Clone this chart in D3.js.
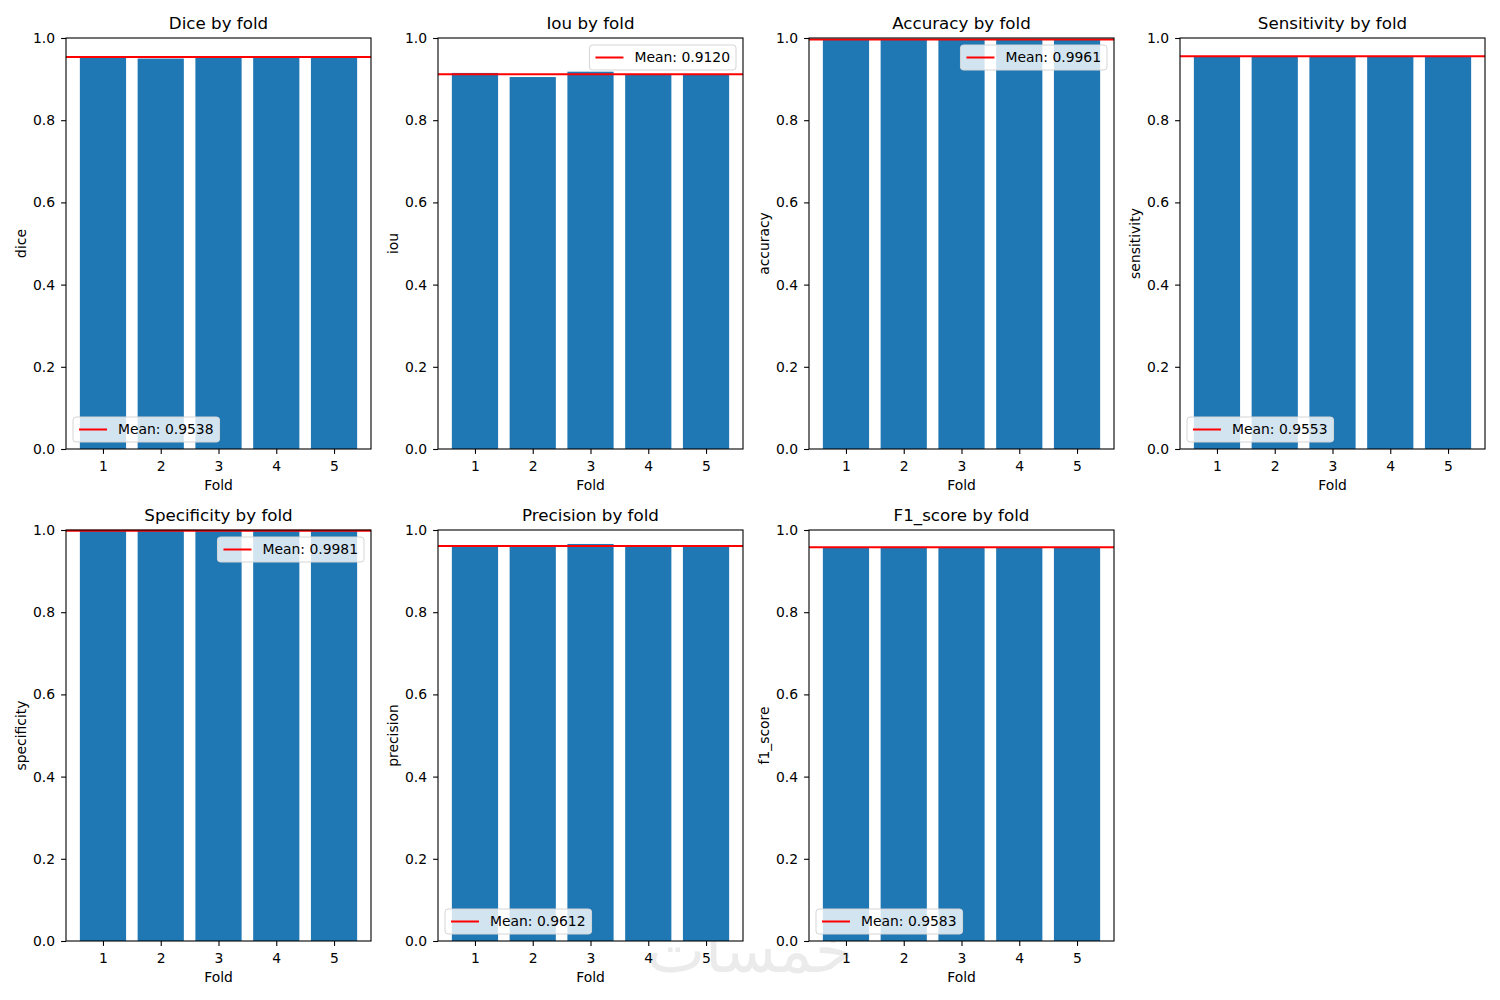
<!DOCTYPE html>
<html>
  <meta charset="utf-8" />
  <style>
    body {
      margin: 0;
      background: #fff;
      font-family: "DejaVu Sans", sans-serif;
    }
    text {
      fill: #000;
    }
    .tick text {
      font-size: 13.9px;
    }
  </style>
  <body>
    <script src="https://d3js.org/d3.v7.min.js"></script>
    <script>
      // values per fold
      let folds = [1, 2, 3, 4, 5];
      let metrics = ["dice", "iou", "accuracy", "sensitivity", "specificity", "precision", "f1_score"];
      let dice = [0.9555, 0.95, 0.9545, 0.955, 0.954];
      let iou = [0.915, 0.905, 0.918, 0.911, 0.911];
      let accuracy = [0.9965, 0.996, 0.9962, 0.9958, 0.996];
      let sensitivity = [0.955, 0.956, 0.955, 0.955, 0.9555];
      let specificity = [0.9982, 0.998, 0.9981, 0.998, 0.9982];
      let precision = [0.96, 0.96, 0.966, 0.96, 0.96];
      let f1_score = [0.958, 0.959, 0.958, 0.958, 0.9585];
      let yTicks = [0, 0.2, 0.4, 0.6, 0.8, 1.0];

      let seriesByMetric = { dice, iou, accuracy, sensitivity, specificity, precision, f1_score };

      // where matplotlib's "best" put each legend
      let legendLoc = ["lower left", "upper right", "upper right", "lower left", "upper right", "lower left", "lower left"];

      let width = 1500,
        height = 1000;
      let colLefts = [66, 438, 809, 1180],
        rowTops = [38, 530];
      let axW = 305,
        axH = 411;

      let svg = d3
        .select("body")
        .append("svg")
        .attr("width", width)
        .attr("height", height);

      // faint watermark
      svg
        .append("text")
        .attr("x", 750)
        .attr("y", 972)
        .attr("text-anchor", "middle")
        .style("font-size", "62px")
        .style("fill", "#ebebeb")
        .text("خمسات");

      function capitalize(s) {
        return s.charAt(0).toUpperCase() + s.slice(1);
      }

      function drawPanel(metric, i) {
        let values = seriesByMetric[metric];
        let left = colLefts[i % 4],
          top = rowTops[Math.floor(i / 4)];
        let g = svg.append("g").attr("transform", `translate(${left},${top})`);

        let x = d3.scaleLinear().domain([0.36, 5.64]).range([0, axW]);
        let y = d3.scaleLinear().domain([0, 1]).range([axH, 0]);
        let bw = x(1.4) - x(0.6);

        g.selectAll(".bar")
          .data(values)
          .join("rect")
          .attr("class", "bar")
          .attr("x", (d, j) => x(folds[j]) - bw / 2)
          .attr("width", bw)
          .attr("y", (d) => y(d))
          .attr("height", (d) => y(0) - y(d))
          .attr("fill", "#1f77b4");

        let mean = d3.mean(values);
        g.append("line")
          .attr("x1", 0)
          .attr("x2", axW)
          .attr("y1", y(mean))
          .attr("y2", y(mean))
          .attr("stroke", "red")
          .attr("stroke-width", 2);

        // frame
        g.append("rect")
          .attr("width", axW)
          .attr("height", axH)
          .attr("fill", "none")
          .attr("stroke", "#000")
          .attr("stroke-width", 1.1);

        let xAxis = g
          .append("g")
          .attr("transform", `translate(0,${axH})`)
          .call(d3.axisBottom(x).tickValues(folds).tickSize(4.9).tickPadding(7).tickFormat(d3.format("d")));
        let yAxis = g
          .append("g")
          .call(d3.axisLeft(y).tickValues(yTicks).tickSize(4.9).tickPadding(6).tickFormat(d3.format(".1f")));
        [xAxis, yAxis].forEach((a) => {
          a.select(".domain").remove();
          a.selectAll(".tick line").attr("stroke", "#000").attr("stroke-width", 1.1);
          a.selectAll(".tick text").style("font-family", "DejaVu Sans").attr("fill", "#000");
        });

        g.append("text")
          .attr("x", axW / 2)
          .attr("y", -9)
          .attr("text-anchor", "middle")
          .style("font-size", "16.7px")
          .text(capitalize(metric) + " by fold");

        g.append("text")
          .attr("x", axW / 2)
          .attr("y", axH + 41)
          .attr("text-anchor", "middle")
          .style("font-size", "13.9px")
          .text("Fold");

        g.append("text")
          .attr("transform", `translate(-40,${axH / 2}) rotate(-90)`)
          .attr("text-anchor", "middle")
          .style("font-size", "13.9px")
          .text(metric);

        // legend
        let label = "Mean: " + mean.toFixed(4);
        let lg = g.append("g");
        let lrect = lg
          .append("rect")
          .attr("rx", 3)
          .attr("fill", "#fff")
          .attr("fill-opacity", 0.8)
          .attr("stroke", "#d5d5d5")
          .attr("stroke-width", 1);
        let ltext = lg
          .append("text")
          .attr("x", 45)
          .attr("y", 12.5)
          .attr("dy", "0.35em")
          .style("font-size", "13.9px")
          .text(label);
        lg.append("line")
          .attr("x1", 6)
          .attr("x2", 34)
          .attr("y1", 12.5)
          .attr("y2", 12.5)
          .attr("stroke", "red")
          .attr("stroke-width", 2);
        let tw = ltext.node().getComputedTextLength();
        let lw = 45 + tw + 6,
          lh = 25;
        lrect.attr("width", lw).attr("height", lh);
        let lx = legendLoc[i].includes("left") ? 7 : axW - 7 - lw;
        let ly = legendLoc[i].includes("lower") ? axH - 7 - lh : 7;
        lg.attr("transform", `translate(${lx},${ly})`);
      }

      metrics.forEach(drawPanel);
    </script>
  </body>
</html>
